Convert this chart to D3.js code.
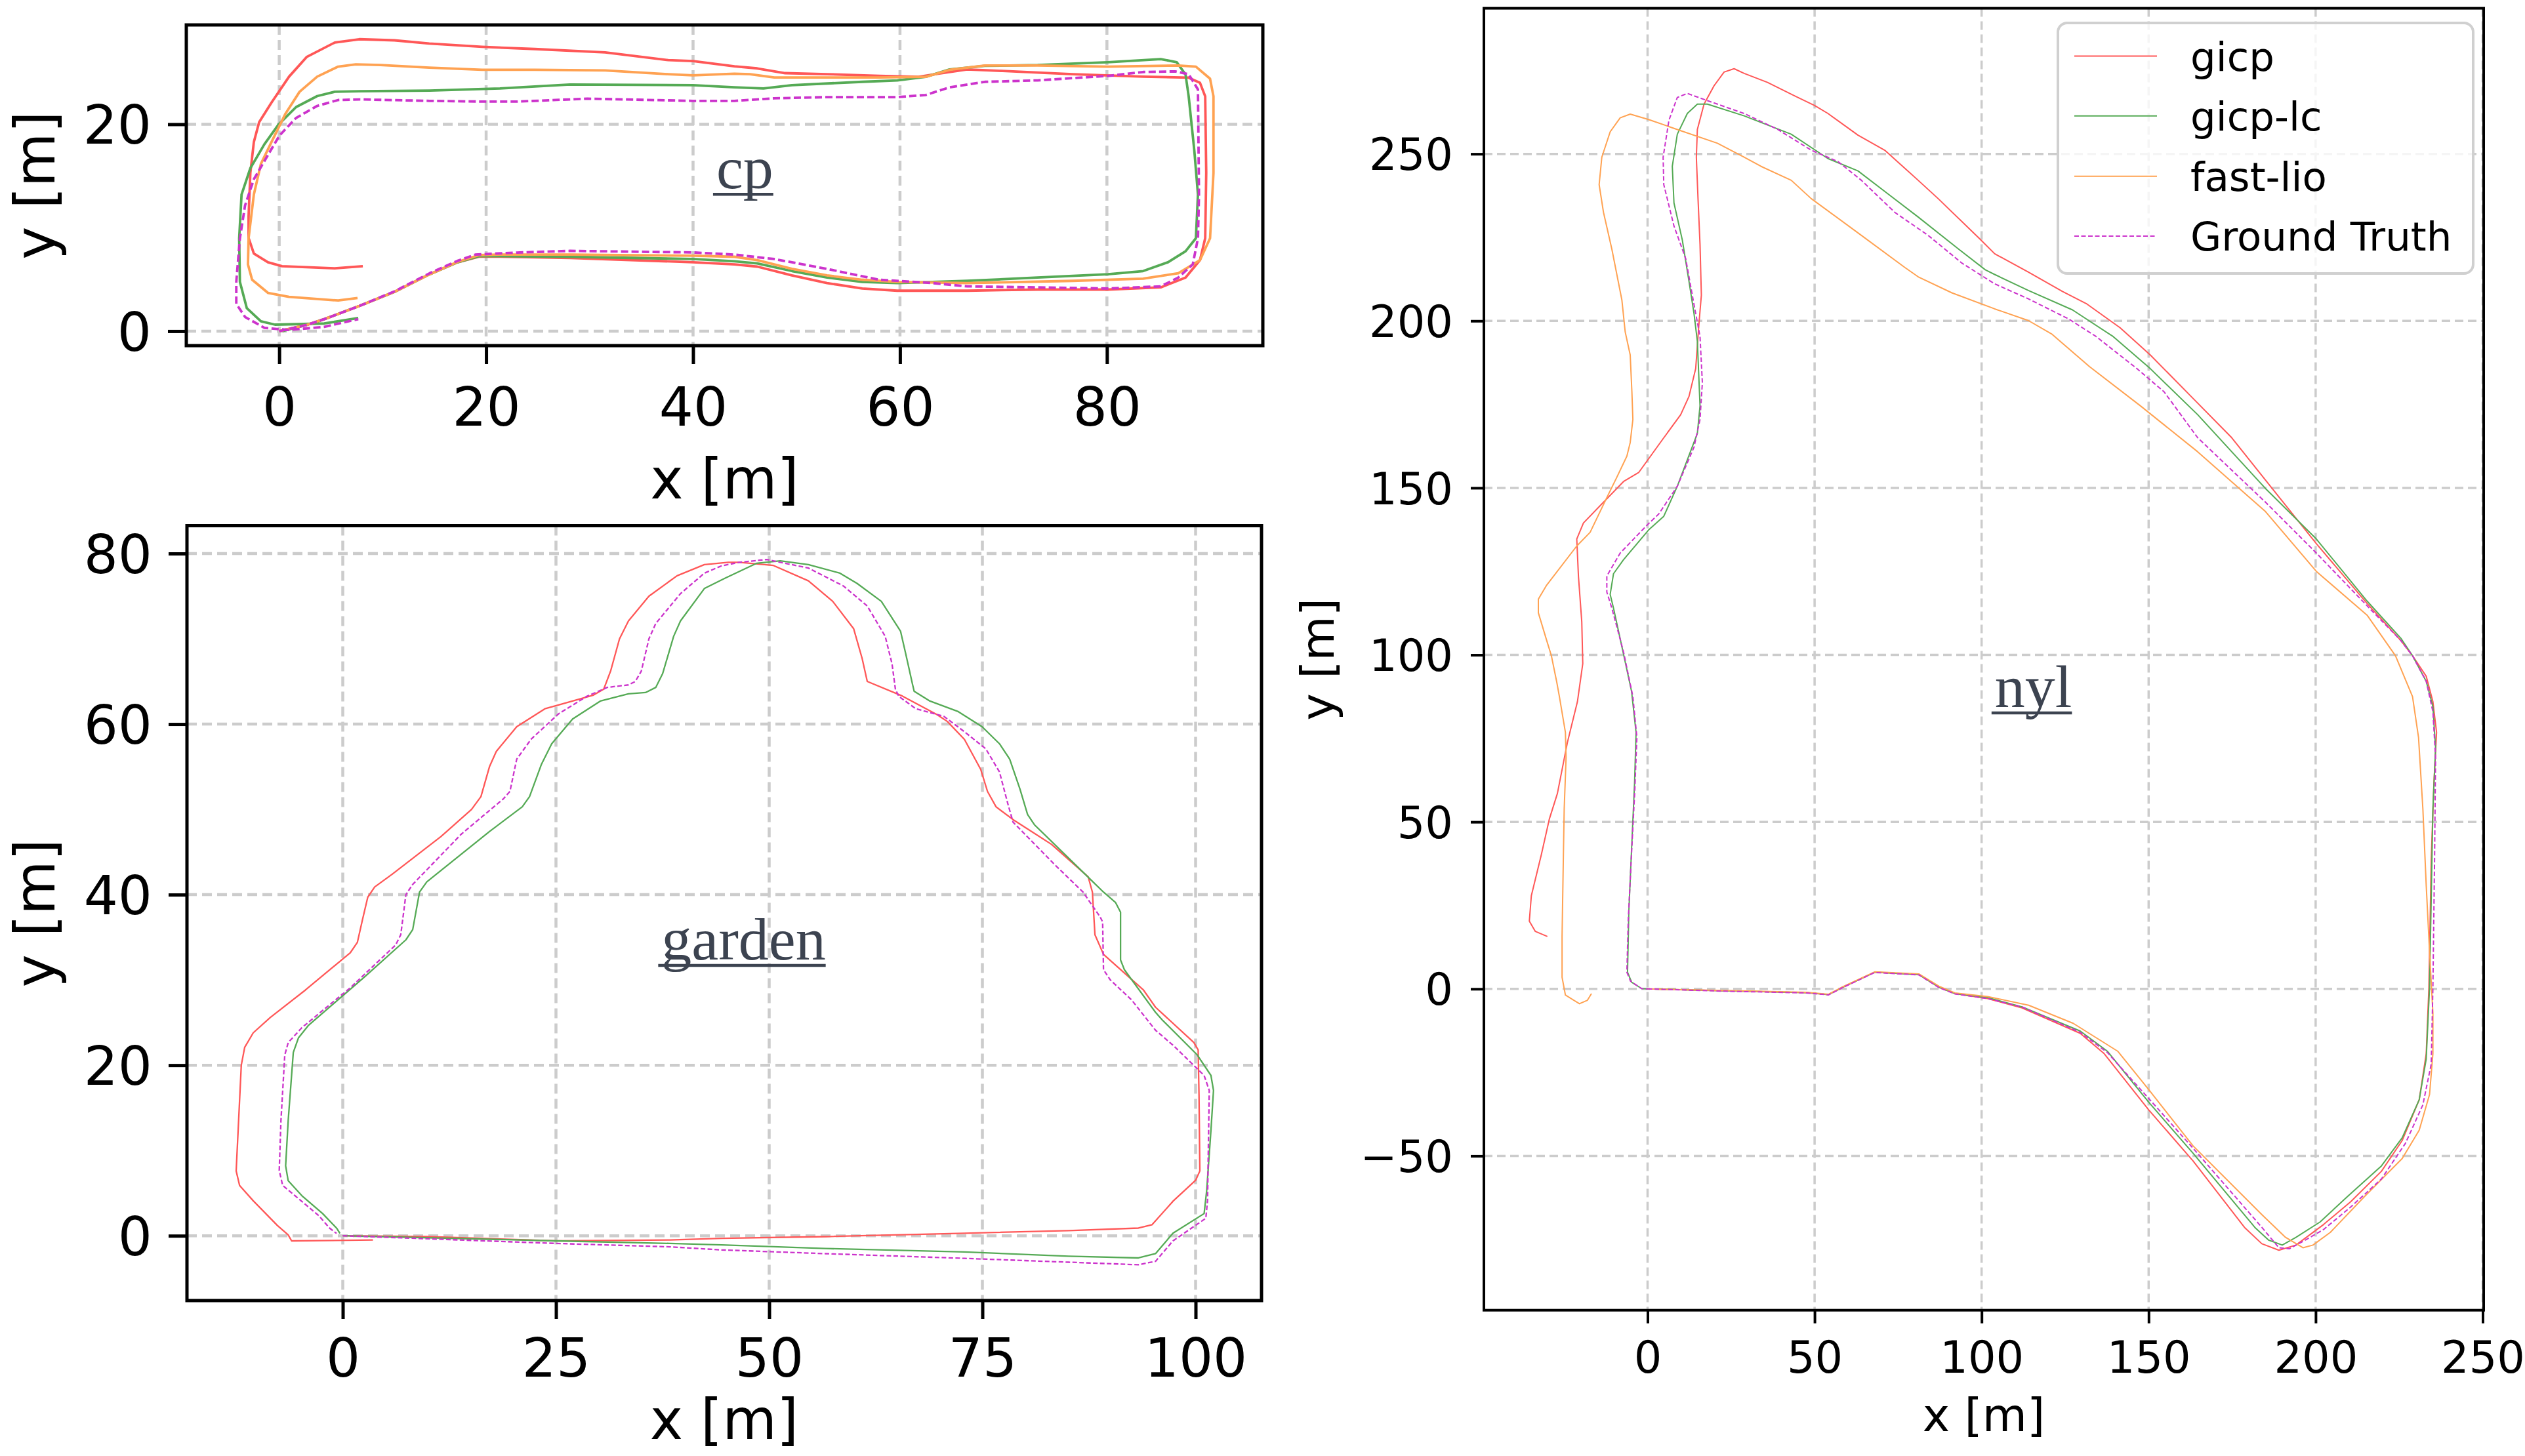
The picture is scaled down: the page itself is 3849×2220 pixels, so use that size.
<!DOCTYPE html>
<html>
<head>
<meta charset="utf-8">
<script src="https://cdn.jsdelivr.net/npm/d3@7"></script>
<style>
  html, body { margin: 0; padding: 0; background: #fff; }
  svg text { font-family: "DejaVu Sans", sans-serif; }
</style>
</head>
<body>
<div id="chart"></div>
<script>
// ---- data (metres) ----
const cpXTicks = [0, 20, 40, 60, 80];
const cpYTicks = [0, 20];
const gardenXTicks = [0, 25, 50, 75, 100];
const gardenYTicks = [0, 20, 40, 60, 80];
const nylXTicks = [0, 50, 100, 150, 200, 250];
const nylYTicks = [-50, 0, 50, 100, 150, 200, 250];

const seriesNames = ['gicp', 'gicp-lc', 'fast-lio', 'Ground Truth'];

const cpGicp = [[0,0],[2.65,0.6],[4.35,1.16],[7.74,2.43],[11.14,3.8],[14.54,5.5],[17.25,6.66],[19.3,7.2],
  [21.3,7.2],[28.1,7.08],[40,6.66],[44,6.45],[46.2,6.24],[49.55,5.39],[52.95,4.65],[56.35,4.12],[59.74,3.91],
  [66.5,3.91],[73.3,4.02],[80.1,4.02],[85.2,4.23],[87.6,5.18],[89,6.87],[89.5,8.98],[89.6,15.3],[89.5,22.7],
  [89,24],[87.9,24.5],[83.5,24.6],[76.7,24.84],[69.9,25.15],[66.5,25.3],[63.8,24.9],[61.8,24.58],[58,24.67],
  [52.95,24.84],[48.9,24.94],[46.2,25.4],[44,25.6],[40,26.1],[37.6,26.2],[31.5,26.95],[24.7,27.27],[19.6,27.48],
  [14.5,27.8],[11.14,28.11],[7.74,28.22],[5.37,27.9],[2.65,26.5],[0.95,24.6],[-0.75,22.09],[-1.94,20.2],
  [-2.45,18.28],[-2.79,15.3],[-2.96,11.1],[-2.96,9],[-2.45,7.5],[-1.09,6.66],[0.27,6.28],[5.37,6.07],[8.08,6.28]];
const cpGicpLc = [[0.3,0],[2.65,0.6],[4.35,1.16],[7.74,2.43],[11.14,3.8],[14.54,5.5],[17.25,6.66],[19.3,7.25],
  [21.3,7.25],[28.1,7.19],[40,6.97],[44,6.76],[46.2,6.55],[49.55,5.81],[52.95,5.18],[56.35,4.76],[59.74,4.65],
  [66.5,4.86],[73.3,5.18],[80.1,5.5],[83.5,5.81],[85.9,6.66],[87.6,7.72],[88.6,8.98],[88.8,13.2],[88.45,17.44],
  [87.9,22.72],[87.6,24.8],[86.75,26],[85.2,26.3],[80.1,26],[73.3,25.72],[68.2,25.64],[64.8,25.3],[62.5,24.58],
  [59.74,24.24],[56.35,24.1],[49.55,23.78],[46.8,23.46],[44,23.57],[40,23.78],[28.1,23.84],[21.33,23.46],
  [14.54,23.25],[7.74,23.19],[5.37,23.14],[3.67,22.72],[1.63,21.66],[-0.07,19.97],[-1.43,18.07],[-2.79,15.75],
  [-3.64,13.21],[-3.87,8.98],[-3.8,4.76],[-3.13,2.22],[-1.77,0.95],[-0.41,0.63],[4.35,0.74],[7.64,1.27]];
const cpFastLio = [[0,0],[2.65,0.6],[4.35,1.16],[7.74,2.43],[11.14,3.8],[14.54,5.5],[17.25,6.7],[19.3,7.35],
  [21.3,7.4],[28.1,7.4],[40,7.29],[44,7.19],[46.2,6.87],[49.55,6.02],[52.95,5.39],[56.35,4.97],[59.74,4.76],
  [66.5,4.65],[76.7,4.86],[83.5,5.07],[86.9,5.6],[89,6.87],[89.97,8.98],[90.3,15.3],[90.3,22.7],[89.97,24.4],
  [88.6,25.57],[86.9,25.68],[80.1,25.57],[73.3,25.68],[68.2,25.68],[64.8,25.26],[62.5,24.58],[58,24.52],
  [49.55,24.52],[47.85,24.52],[45.5,24.84],[44,24.88],[40,24.73],[37.6,24.84],[31.5,25.2],[24.7,25.26],
  [19.6,25.26],[14.5,25.47],[9.78,25.72],[7.4,25.79],[5.7,25.57],[3.67,24.6],[1.97,23.14],[0.61,21.03],
  [-0.75,18.28],[-1.77,16.17],[-2.45,13.21],[-2.96,8.98],[-3.02,6.45],[-2.62,4.97],[-1.09,3.7],[0.95,3.32],
  [5.7,2.96],[7.57,3.21]];
const cpGroundTruth = [[0,0],[2.65,0.6],[4.35,1.16],[7.74,2.43],[11.14,3.85],[14.54,5.6],[17.25,6.8],[18.95,7.4],
  [23,7.6],[28.1,7.76],[40,7.61],[44,7.4],[47.85,6.97],[52.95,6.02],[58,4.97],[63.1,4.65],[66.5,4.33],[73.3,4.23],
  [80.1,4.12],[85.2,4.33],[86.9,5.18],[88.3,6.45],[88.8,8.98],[88.9,13.2],[88.8,23.36],[87.9,24.84],[86.6,25.11],
  [83.5,25.05],[80.1,24.67],[73.3,24.24],[68.2,24.1],[64.8,23.57],[62.5,22.83],[59.74,22.62],[52.95,22.62],
  [47.85,22.51],[44,22.26],[40,22.26],[29.8,22.47],[23,22.19],[19.6,22.19],[14.54,22.26],[7.74,22.4],[5.7,22.34],
  [3.67,21.77],[1.63,20.61],[0.03,18.92],[-1.09,17.02],[-2.45,14.69],[-3.3,12.15],[-3.8,8.98],[-4.15,4.76],
  [-4.15,2.64],[-3.3,1.37],[-1.43,0.32],[0.95,0.11],[4.35,0.42],[7.64,1.16]];

const gardenGicp = [[0,0],[9.85,-0.1],[25,-0.6],[38.35,-0.5],[44.42,-0.3],[56.6,-0.1],[72.9,0.3],[85.1,0.6],
  [93.3,0.9],[94.9,1.3],[97.4,4.1],[100,6.5],[100.5,7.6],[100.4,16.5],[100.3,21.8],[99.8,22.65],[95.3,26.8],
  [93.9,28.8],[89.2,33],[88.2,35.3],[87.9,40.3],[87.4,42.1],[83.1,45.9],[78.6,48.8],[76.6,50.3],[75.6,52.1],
  [74.8,54.7],[72.9,58.2],[70.9,60.3],[69.7,61.1],[65.6,63.3],[61.5,65],[60.9,67.7],[59.9,71.2],[57.45,74.4],
  [54.6,76.8],[50.5,78.6],[46.5,78.97],[45.2,78.97],[42.4,78.7],[39.2,77.4],[35.9,75],[33.5,72.1],[32.45,70],
  [31.4,66.2],[30.6,64.1],[29.4,63.4],[25.3,62.25],[23.7,61.8],[20.4,59.7],[18,56.8],[17.2,55],[16.2,51.5],
  [15.1,50],[11.5,46.8],[5.8,42.4],[3.74,40.9],[2.93,39.7],[2.32,37.1],[1.71,34.4],[0.89,33.2],[-4.4,28.8],
  [-8.5,25.6],[-10.5,23.8],[-11.5,22.1],[-11.9,20],[-12.5,7.6],[-12.1,5.9],[-10.5,4.1],[-7.66,1.2],[-6.4,0.1],
  [-6,-0.6],[3.54,-0.5]];
const gardenGicpLc = [[0,0],[25,-0.6],[38.35,-0.9],[44.42,-1.07],[56.6,-1.5],[72.9,-1.9],[85.1,-2.4],[93.3,-2.6],
  [95.3,-2.1],[97.35,0.3],[101,2.6],[101.3,5.3],[101.8,12.35],[102.1,17.05],[101.8,18.8],[100.2,21.2],[96.1,25.3],
  [95.3,26.2],[91.65,31.2],[91.2,32.35],[91.2,37.95],[90.6,39.1],[89.2,40.3],[87.2,42.25],[81.1,48.2],[80.3,49.4],
  [79.4,52.4],[78.2,55.9],[77,57.7],[74.96,59.7],[72.1,61.5],[68.85,62.7],[67,63.85],[66.8,64.7],[66,68.3],
  [65.4,70.9],[63.15,74.4],[60.3,76.5],[58.3,77.7],[54.6,78.7],[51.3,79.15],[48.5,78.85],[44.8,77.1],[42.4,75.9],
  [39.6,72.1],[38.8,70.3],[37.5,65.9],[36.7,64.3],[35.5,63.7],[33.5,63.55],[30.2,62.7],[26.95,60.6],[24.5,57.7],
  [23.3,55.3],[21.9,51.5],[21.05,50.3],[17.2,47.4],[9.85,41.5],[9,40.3],[8.2,35.9],[7.4,34.7],[2.5,30.3],
  [-4,24.7],[-5.2,23.2],[-5.8,21.5],[-6.4,13.5],[-6.7,8.2],[-6.4,6.45],[-4.8,4.7],[-2.36,2.6],[-0.73,0.9],
  [-0.33,0.27]];
const gardenGroundTruth = [[0,0],[25,-0.9],[38.35,-1.3],[44.42,-1.66],[56.6,-2.1],[72.9,-2.65],[85.1,-3.1],
  [93.3,-3.4],[95.3,-3],[97.35,-0.6],[101.2,2.05],[101.4,4.1],[101.6,17.05],[101,18.8],[97.35,22.35],[95.3,24.1],
  [92.5,27.65],[90,30],[89.2,31.2],[89.1,36.8],[88.8,37.4],[86.8,40.3],[83.5,43.5],[78.6,48.5],[78,50.6],
  [77,54.4],[75.4,57.1],[72.9,59.1],[70.5,60.9],[67.2,61.8],[65.2,63.25],[64.8,64.1],[64.4,67.1],[63.6,70.3],
  [61.5,73.85],[58.7,76.2],[54.6,78.3],[49.7,79.3],[46.5,78.97],[44.42,78.56],[42.4,77.7],[39.6,75.3],[36.7,71.8],
  [35.9,70],[35,66.2],[34.3,65],[33.5,64.6],[31,64.3],[28.6,63.25],[25.3,61.2],[22.1,58.25],[20.4,55.9],
  [19.6,52.1],[18.8,51.2],[13.9,47.1],[8.2,41.2],[7.4,40],[6.8,35.3],[6.2,34.1],[0.9,29.1],[-4.8,24.4],
  [-6.4,22.65],[-6.8,21.2],[-7.25,13.5],[-7.45,7.65],[-7.05,5.9],[-5.6,4.7],[-2.8,2.35],[-1.55,0.9],[-0.73,0.27]];

const nylGicp = [[0,0],[23.5,-0.6],[47.5,-1.1],[54.2,-1.7],[58.4,0.5],[68,5],[81.2,4.3],[87.2,0.5],[92,-1.4],
  [101.8,-2.9],[112.1,-5.7],[129.5,-13.3],[136.7,-19.4],[150,-36.2],[163.3,-51.5],[178.7,-71.4],[183.9,-76.3],
  [189,-78.25],[194.1,-76.7],[202.3,-70.6],[210.5,-63.7],[219.7,-54.6],[225.9,-45.4],[231,-33.2],[233.1,-19.4],
  [233.9,0.4],[234.6,38.6],[235.4,61.6],[236.2,76.8],[235.1,86],[233.1,93.6],[229,99.75],[225.5,104.3],
  [215.4,115.4],[200.2,133.3],[187,149.8],[174.9,165],[162.7,177.4],[150.5,189.8],[141.4,198],[131.3,205.2],
  [124.2,208.8],[114,214.6],[103.9,220.1],[99.1,224.9],[87,236.6],[81,242.1],[71,251.1],[63,255.6],[54,262.1],
  [50,264.5],[44,267.4],[35.9,271.4],[28.9,274.1],[25.9,275.5],[22.9,274.5],[19.9,270.4],[16.9,264.9],
  [14.9,257.3],[14.6,249],[15.1,236.6],[15.7,222.9],[16.1,207.7],[15.4,199.4],[14.4,185.7],[12.4,177.4],
  [9.9,171.9],[4.85,165],[-2.66,154.6],[-7.2,151.9],[-13.2,145.7],[-19.2,139.5],[-21.2,134.7],[-20.7,123.6],
  [-19.7,109.9],[-19.4,97.4],[-21,86],[-24,73.8],[-27,58.5],[-29.4,50.9],[-31.8,40.2],[-34.8,27.9],[-35.4,20.3],
  [-33.6,17.2],[-30,15.7]];
const nylGicpLc = [[0,0],[23.5,-0.6],[47.5,-1.1],[54.2,-1.7],[58.4,0.5],[68,5],[81.2,4.3],[87.2,0.5],[92,-1.4],
  [101.8,-2.6],[112.1,-5.4],[129.5,-12.6],[137.7,-18.7],[150,-33.9],[163.3,-49.2],[181.8,-71.4],[185.9,-75.2],
  [190,-76.7],[194.1,-74.4],[201.3,-69.8],[209.5,-62.2],[219.7,-53],[225.9,-44.6],[231,-33.2],[233.1,-21],
  [234.1,0.4],[235.1,53.9],[235.9,72.3],[235.1,84.5],[233.1,92.1],[229,99.75],[225.5,105],[215.4,116.1],
  [200.2,134.7],[185,149.8],[164.7,171.9],[150.5,185.7],[139.4,195.3],[127.2,203.3],[114,209.1],[103.9,213.9],
  [101.1,215.3],[93.1,221.5],[81,231.1],[72,238],[63,244.9],[54,248.6],[43,255.9],[28.9,261.4],[17.9,264.9],
  [14.9,264.9],[11.9,262.1],[8.9,255.9],[7.4,246.3],[7.9,235.3],[10.4,224.2],[12.4,211.8],[13.9,202.2],
  [14.9,193.9],[15.7,174.6],[14.9,166.3],[8.9,150.5],[4.85,141.5],[0.3,137.4],[-7.2,128.5],[-10.2,124.3],
  [-11.2,118.1],[-10.2,114],[-7.2,100.2],[-4.8,89.1],[-3.45,76.8],[-3.9,61.6],[-4.8,41.7],[-5.6,23.4],[-6,5],
  [-4.77,2],[-1.8,0.1],[0,0]];
const nylFastLio = [[0,0],[23.5,-0.5],[47.5,-1],[54.2,-1.6],[58.4,0.6],[68,5.1],[81.2,4.5],[87.2,0.8],[92,-1.2],
  [101.8,-2.3],[114.1,-4.9],[127.4,-10.3],[140.8,-18.7],[150,-30.1],[163.3,-47],[183.9,-67.6],[191,-74.4],
  [196.2,-77.5],[199.2,-76.7],[204.4,-72.9],[214.6,-62.2],[225.9,-50.8],[231,-42.3],[234.1,-31.6],[235.1,-19.4],
  [235.1,-7.2],[234.1,11.1],[233.1,31],[232.1,53.9],[230.8,75.3],[229,87.5],[223.9,99.75],[215.4,111.9],
  [200.2,125],[185,142.9],[164.7,160.8],[147.5,174.6],[132.3,186.3],[121.1,196],[114,200.1],[103.9,203.6],
  [91.1,208.4],[81,213.2],[77,216],[64,225.6],[49,236.6],[43,242.1],[33.9,246.3],[28.9,249],[20.9,253.2],
  [8.9,257.3],[0.3,260.3],[-5.2,261.9],[-8.2,260.8],[-11.2,256.6],[-13.7,249],[-14.5,240.8],[-13.2,232.5],
  [-10.7,221.5],[-7.7,206.3],[-6.7,196.7],[-5.2,189.8],[-4.7,178.8],[-4.4,170.5],[-5.2,163.6],[-6.2,159.5],
  [-9.2,153.2],[-12.2,147.1],[-17.2,136.7],[-21.2,132.6],[-30.2,120.9],[-32.7,116.7],[-32.7,112.6],[-30.2,104.3],
  [-28.8,99.75],[-27.2,91.9],[-26.4,87.5],[-24.6,76.8],[-24.4,69.2],[-24.96,53.9],[-25.2,40.2],[-25.6,15.7],
  [-25.6,3.5],[-24.6,-1.85],[-20.4,-4.45],[-18,-3.4],[-16.8,-1.4]];
const nylGroundTruth = [[0,0],[23.5,-0.7],[47.5,-1.2],[54.2,-1.8],[58.4,0.4],[68,4.9],[81.2,4.2],[87.2,0.4],
  [92,-1.5],[101.8,-2.9],[112.1,-5.4],[129.5,-13],[137.7,-19.1],[151,-33.9],[163.3,-47.7],[183.9,-71.4],
  [189,-77.5],[192.1,-77.8],[196.2,-75.6],[202.3,-72.1],[210.5,-65.3],[219.7,-56.9],[226.9,-46.2],[232.1,-34.7],
  [234.6,-22.5],[235.1,0.4],[235.6,38.6],[235.9,69.2],[235.1,83],[233.1,92.1],[229,99.75],[225.5,104.3],
  [215.4,114.7],[200.2,130.5],[185,145.7],[164.7,165],[154.6,178.8],[146.5,185.7],[134.3,195.3],[126.2,200.5],
  [114,206.6],[103.9,211.1],[94.1,217.3],[84,225.6],[74,232.5],[64,242.1],[57,247.7],[49,251.1],[39,257.3],
  [28.9,262.1],[18.9,265.6],[11.9,268.1],[8.9,266.9],[6.4,260.1],[4.65,249],[4.85,240.8],[7.9,228.4],
  [11.4,218.7],[13.9,204.9],[15.7,195.3],[16.4,181.5],[15.7,170.5],[13.9,162.2],[8.9,150.5],[3.35,142.2],
  [-0.2,138.8],[-8.2,130.5],[-12.2,123.6],[-12.2,118.8],[-10.7,114],[-7.2,100.9],[-4.4,87.5],[-3.2,75.3],
  [-3.8,60],[-4.9,38.6],[-5.8,20.3],[-6.2,5],[-5.1,2.3],[-1.8,0.1],[0,0]];

// ---- styles ----
const colors = { 'gicp': '#ff5757', 'gicp-lc': '#55aa55', 'fast-lio': '#ffa252', 'Ground Truth': '#cc33cc' };
const labelColor = '#3c4350';

const W = 3849, H = 2220;
const svg = d3.select('#chart').append('svg')
  .attr('width', W)
  .attr('height', H)
  .attr('viewBox', `0 0 ${W} ${H}`);
svg.append('rect').attr('width', W).attr('height', H).attr('fill', '#fff');

// box = [left, top, right, bottom] in pixels
const panels = [
  {
    id: 'cp', title: 'cp', titleAt: [45, 13.8],
    box: [284, 38, 1925, 527], xDom: [-8.98, 95.07], yDom: [-1.40, 29.6],
    xTicks: cpXTicks, yTicks: cpYTicks,
    series: [cpGicp, cpGicpLc, cpFastLio, cpGroundTruth],
    lineW: 3.8, gtDash: '11,5', spineW: 5, gridW: 4.5, gridDash: '15,8',
    tickLen: 28, tickW: 5, tickFont: 82, yPad: 25, xBase: 122,
    labelFont: 85, xLabelBase: 760, yLabelX: 83
  },
  {
    id: 'garden', title: 'garden', titleAt: [47, 32.4],
    box: [285, 801.5, 1923, 1983], xDom: [-18.27, 107.73], yDom: [-7.6, 83.27],
    xTicks: gardenXTicks, yTicks: gardenYTicks,
    series: [gardenGicp, gardenGicpLc, null, gardenGroundTruth],
    lineW: 2.3, gtDash: '7,3.5', spineW: 5, gridW: 4.5, gridDash: '15,8',
    tickLen: 28, tickW: 5, tickFont: 82, yPad: 25, xBase: 116,
    labelFont: 85, xLabelBase: 2194, yLabelX: 83
  },
  {
    id: 'nyl', title: 'nyl', titleAt: [115.5, 84.4],
    box: [2262, 12.6, 3786, 1997.7], xDom: [-49.0, 250.3], yDom: [-96.2, 293.6],
    xTicks: nylXTicks, yTicks: nylYTicks,
    series: [nylGicp, nylGicpLc, nylFastLio, nylGroundTruth],
    lineW: 2, gtDash: '7,3.5', spineW: 4, gridW: 3.5, gridDash: '13,7',
    tickLen: 20, tickW: 4, tickFont: 67, yPad: 27, xBase: 95,
    labelFont: 70, xLabelBase: 2182, yLabelX: 2033,
    legend: true
  }
];

function drawPanel(p) {
  const [L, T, R, B] = p.box;
  const x = d3.scaleLinear().domain(p.xDom).range([L, R]);
  const y = d3.scaleLinear().domain(p.yDom).range([B, T]);
  const g = svg.append('g').attr('class', 'panel-' + p.id);

  // grid
  const grid = g.append('g')
    .attr('stroke', '#cccccc')
    .attr('stroke-width', p.gridW)
    .attr('stroke-dasharray', p.gridDash);
  grid.selectAll('line.gx').data(p.xTicks).enter().append('line')
    .attr('x1', d => x(d)).attr('x2', d => x(d))
    .attr('y1', T).attr('y2', B);
  grid.selectAll('line.gy').data(p.yTicks).enter().append('line')
    .attr('x1', L).attr('x2', R)
    .attr('y1', d => y(d)).attr('y2', d => y(d));

  // trajectories
  svg.append('clipPath').attr('id', 'clip-' + p.id)
    .append('rect').attr('x', L).attr('y', T).attr('width', R - L).attr('height', B - T);
  const line = d3.line().x(d => x(d[0])).y(d => y(d[1]));
  const tracks = seriesNames
    .map((name, i) => ({ name: name, values: p.series[i] }))
    .filter(s => s.values);
  g.append('g').attr('clip-path', `url(#clip-${p.id})`)
    .selectAll('path').data(tracks).enter().append('path')
    .attr('d', s => line(s.values))
    .attr('fill', 'none')
    .attr('stroke', s => colors[s.name])
    .attr('stroke-width', p.lineW)
    .attr('stroke-linejoin', 'round')
    .attr('stroke-dasharray', s => s.name === 'Ground Truth' ? p.gtDash : null);

  // axes
  const gx = g.append('g')
    .attr('transform', 'translate(0,' + B + ')')
    .call(d3.axisBottom(x).tickValues(p.xTicks).tickSize(p.tickLen).tickSizeOuter(0));
  const gy = g.append('g')
    .attr('transform', 'translate(' + L + ',0)')
    .call(d3.axisLeft(y).tickValues(p.yTicks).tickSize(p.tickLen).tickSizeOuter(0));
  [gx, gy].forEach(a => {
    a.attr('font-size', null).attr('font-family', null);
    a.select('.domain').remove();
    a.selectAll('.tick line').attr('stroke', '#000').attr('stroke-width', p.tickW);
    a.selectAll('.tick text').attr('fill', '#000').style('font-size', p.tickFont + 'px');
  });
  gx.selectAll('.tick text').attr('y', p.xBase).attr('dy', 0);
  gy.selectAll('.tick text').attr('x', -(p.tickLen + p.yPad)).attr('dy', '0.36em');

  // frame
  g.append('rect')
    .attr('x', L).attr('y', T).attr('width', R - L).attr('height', B - T)
    .attr('fill', 'none').attr('stroke', '#000').attr('stroke-width', p.spineW);

  // axis labels
  g.append('text')
    .attr('x', (L + R) / 2).attr('y', p.xLabelBase)
    .attr('text-anchor', 'middle')
    .style('font-size', p.labelFont + 'px')
    .text('x [m]');
  g.append('text')
    .attr('transform', 'translate(' + p.yLabelX + ',' + (T + B) / 2 + ') rotate(-90)')
    .attr('text-anchor', 'middle')
    .style('font-size', p.labelFont + 'px')
    .text('y [m]');

  // dataset name, underlined serif
  const tx = x(p.titleAt[0]), ty = y(p.titleAt[1]);
  const title = g.append('text')
    .attr('x', tx).attr('y', ty)
    .attr('text-anchor', 'middle')
    .attr('fill', labelColor)
    .style('font-family', '"Liberation Serif", "Times New Roman", serif')
    .style('font-size', '92px')
    .text(p.title);
  const tw = title.node().getComputedTextLength();
  g.append('line')
    .attr('x1', tx - tw / 2 - 5).attr('x2', tx + tw / 2)
    .attr('y1', ty + 9).attr('y2', ty + 9)
    .attr('stroke', labelColor).attr('stroke-width', 4.5);

  if (p.legend) drawLegend(g, p);
}

function drawLegend(g, p) {
  const lx = 3137, ly = 35, lw = 633, lh = 382;
  const rows = [85.6, 176.8, 268.7, 359.9];
  const leg = g.append('g').attr('class', 'legend');
  leg.append('rect')
    .attr('x', lx).attr('y', ly).attr('width', lw).attr('height', lh)
    .attr('rx', 14).attr('ry', 14)
    .attr('fill', '#fff').attr('fill-opacity', 0.8)
    .attr('stroke', '#d0d0d0').attr('stroke-width', 4);
  const item = leg.selectAll('g.item').data(seriesNames).enter().append('g')
    .attr('transform', (d, i) => 'translate(0,' + rows[i] + ')');
  item.append('line')
    .attr('x1', lx + 25).attr('x2', lx + 151)
    .attr('y1', 0).attr('y2', 0)
    .attr('stroke', d => colors[d])
    .attr('stroke-width', p.lineW)
    .attr('stroke-dasharray', d => d === 'Ground Truth' ? p.gtDash : null);
  item.append('text')
    .attr('x', lx + 202).attr('y', 22)
    .style('font-size', '61px')
    .attr('fill', '#000')
    .text(d => d);
}

panels.forEach(drawPanel);
</script>
</body>
</html>
